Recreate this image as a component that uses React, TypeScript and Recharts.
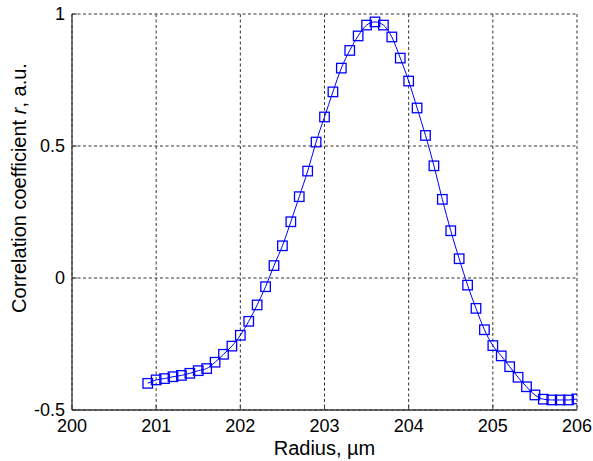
import React from 'react';
import { LineChart, Line, XAxis, YAxis, CartesianGrid } from 'recharts';

const radius = [
  200.9, 201.0, 201.1, 201.2, 201.3, 201.4, 201.5, 201.6, 201.7, 201.8, 201.9,
  202.0, 202.1, 202.2, 202.3, 202.4, 202.5, 202.6, 202.7, 202.8, 202.9,
  203.0, 203.1, 203.2, 203.3, 203.4, 203.5, 203.6, 203.7, 203.8, 203.9,
  204.0, 204.1, 204.2, 204.3, 204.4, 204.5, 204.6, 204.7, 204.8, 204.9,
  205.0, 205.1, 205.2, 205.3, 205.4, 205.5, 205.6, 205.7, 205.8, 205.9, 206.0,
];

const correlation = [
  -0.399, -0.386, -0.381, -0.374, -0.369, -0.361, -0.351, -0.343, -0.319, -0.289, -0.258,
  -0.217, -0.164, -0.102, -0.033, 0.047, 0.122, 0.213, 0.308, 0.405, 0.515,
  0.61, 0.705, 0.795, 0.862, 0.917, 0.958, 0.97, 0.958, 0.913, 0.833,
  0.746, 0.644, 0.54, 0.425, 0.298, 0.179, 0.073, -0.027, -0.115, -0.196,
  -0.256, -0.295, -0.336, -0.376, -0.412, -0.443, -0.459, -0.462, -0.462, -0.462, -0.458,
];

const xTicks = [200, 201, 202, 203, 204, 205, 206];
const yTicks = [-0.5, 0, 0.5, 1];

const data = radius.map((r, i) => ({ r, c: correlation[i] }));

const FONT = '"Liberation Sans", Arial, Helvetica, sans-serif';
const BLUE = '#0000ff';
const FRAME = '#3a3a3a';
const TICK_LEN = 5;

const SquareDot = (props: any) => {
  const { cx, cy } = props;
  if (cx == null || cy == null) return null;
  const s = 9.5;
  return (
    <rect x={cx - s / 2} y={cy - s / 2} width={s} height={s} fill="none" stroke={BLUE} strokeWidth={1.3} />
  );
};

const NoTick = () => <g />;

const YLabel = (props: any) => {
  const vb = props.viewBox || {};
  const x = 26;
  const y = vb.y + vb.height / 2 - 24;
  return (
    <text x={x} y={y} transform={`rotate(-90, ${x}, ${y})`} textAnchor="middle" fontFamily={FONT} fontSize={20} fill="#000">
      Correlation coefficient <tspan fontStyle="italic">r</tspan>, a.u.
    </text>
  );
};

export default function App() {
  return (
    <div style={{ position: 'absolute', left: 0, top: 0, background: '#fff' }}>
      <LineChart width={593} height={461} data={data} margin={{ top: 14, right: 16, left: 0, bottom: 0 }}>
        <CartesianGrid stroke="#333" strokeDasharray="3 2.5" strokeWidth={1} />
        <XAxis
          dataKey="r"
          type="number"
          domain={[200, 206]}
          ticks={xTicks}
          allowDataOverflow
          height={51}
          tickSize={-TICK_LEN}
          tickLine={{ stroke: FRAME }}
          axisLine={{ stroke: FRAME, strokeWidth: 1.3 }}
          tick={{ fill: '#000', fontSize: 18, fontFamily: FONT }}
          tickMargin={TICK_LEN + 9}
          label={{ value: 'Radius, µm', position: 'insideBottom', offset: 6, fill: '#000', fontSize: 20, fontFamily: FONT }}
        />
        <XAxis
          xAxisId="top"
          orientation="top"
          dataKey="r"
          type="number"
          domain={[200, 206]}
          ticks={xTicks}
          height={0}
          tickSize={-TICK_LEN}
          tick={<NoTick />}
          tickLine={{ stroke: FRAME }}
          axisLine={{ stroke: FRAME, strokeWidth: 1.3 }}
        />
        <YAxis
          type="number"
          domain={[-0.5, 1]}
          ticks={yTicks}
          allowDataOverflow
          width={72}
          tickSize={-TICK_LEN}
          tickLine={{ stroke: FRAME }}
          axisLine={{ stroke: FRAME, strokeWidth: 1.3 }}
          tick={{ fill: '#000', fontSize: 18, fontFamily: FONT }}
          tickMargin={TICK_LEN + 7}
          label={<YLabel />}
        />
        <YAxis
          yAxisId="right"
          orientation="right"
          type="number"
          domain={[-0.5, 1]}
          ticks={yTicks}
          width={0}
          tickSize={-TICK_LEN}
          tick={<NoTick />}
          tickLine={{ stroke: FRAME }}
          axisLine={{ stroke: FRAME, strokeWidth: 1.3 }}
        />
        <Line
          dataKey="c"
          type="monotone"
          stroke={BLUE}
          strokeWidth={1}
          dot={<SquareDot />}
          activeDot={false}
          isAnimationActive={false}
        />
      </LineChart>
    </div>
  );
}
